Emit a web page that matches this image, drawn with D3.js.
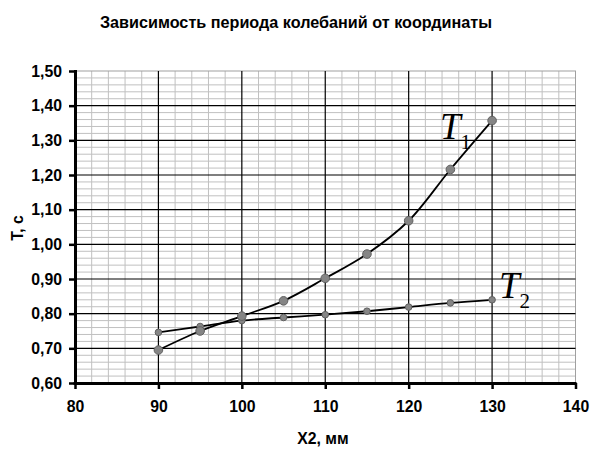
<!DOCTYPE html>
<html><head><meta charset="utf-8">
<script src="https://cdn.jsdelivr.net/npm/d3@7"></script>
<style>body{margin:0;background:#fff}svg{display:block}</style>
</head><body>
<svg id="c" width="591" height="455"></svg>
<script>
const xValues = [90, 95, 100, 105, 110, 115, 120, 125, 130];
const t1Values = [0.695, 0.750, 0.793, 0.837, 0.902, 0.972, 1.068, 1.216, 1.357];
const t2Values = [0.746, 0.763, 0.780, 0.789, 0.797, 0.807, 0.819, 0.831, 0.840];
const xTicks = [80, 90, 100, 110, 120, 130, 140];
const yTicks = [0.60, 0.70, 0.80, 0.90, 1.00, 1.10, 1.20, 1.30, 1.40, 1.50];
const title = "Зависимость периода колебаний от координаты";
const xTitle = "X2, мм";
const yTitle = "T, c";

const svg = d3.select("#c");
const L = 75, R = 575.5, T = 71, B = 383;
const x = d3.scaleLinear().domain([80, 140]).range([L, R]);
const y = d3.scaleLinear().domain([0.6, 1.5]).range([B, T]);
const font = "'Liberation Sans', Arial, sans-serif";
const fs = 15.8;

// minor grid
const g = svg.append("g");
g.selectAll("line.mx").data(d3.range(82, 140, 2).filter(v => v % 10 !== 0)).join("line")
  .attr("x1", d => x(d)).attr("x2", d => x(d)).attr("y1", T).attr("y2", B)
  .attr("stroke", "#c0c0c0").attr("stroke-width", 1);
g.selectAll("line.my").data(d3.range(0, 45).map(i => 0.62 + i * 0.02).filter(v => Math.round(v * 100) % 10 !== 0)).join("line")
  .attr("x1", L).attr("x2", R).attr("y1", d => y(d)).attr("y2", d => y(d))
  .attr("stroke", "#c0c0c0").attr("stroke-width", 1);
// border
svg.append("rect").attr("x", L).attr("y", T).attr("width", R - L).attr("height", B - T)
  .attr("fill", "none").attr("stroke", "#a0a0a0").attr("stroke-width", 1);
// major grid
svg.append("g").selectAll("line").data(xTicks.slice(1, -1)).join("line")
  .attr("x1", d => x(d)).attr("x2", d => x(d)).attr("y1", T).attr("y2", B)
  .attr("stroke", "#000").attr("stroke-width", 1.2);
svg.append("g").selectAll("line").data(yTicks.slice(1, -1)).join("line")
  .attr("x1", L).attr("x2", R).attr("y1", d => y(d)).attr("y2", d => y(d))
  .attr("stroke", "#000").attr("stroke-width", 1.2);

// axes
const fmt = d => d3.format(".2f")(d).replace(".", ",");
const yAxis = svg.append("g").attr("transform", `translate(${L},0)`)
  .call(d3.axisLeft(y).tickValues(yTicks).tickFormat(fmt).tickSize(6).tickPadding(7));
const xAxis = svg.append("g").attr("transform", `translate(0,${B})`)
  .call(d3.axisBottom(x).tickValues(xTicks).tickSize(6).tickPadding(12));
[yAxis, xAxis].forEach(a => {
  a.select(".domain").attr("stroke", "#000").attr("stroke-width", 3);
  a.selectAll(".tick line").attr("stroke", "#000").attr("stroke-width", 2.5);
  a.selectAll("text").attr("fill", "#000").attr("font-family", font)
    .attr("font-weight", "bold").attr("font-size", fs);
});
yAxis.select(".domain").attr("d", `M0.5,${T - 1}V${B + 1.5}`);
xAxis.select(".domain").attr("d", `M${L - 1.5},0.5H${R + 1}`);

// lines
const line = d3.line().curve(d3.curveCatmullRom.alpha(0.5));
const pts1 = xValues.map((v, i) => [x(v), y(t1Values[i])]);
const pts2 = xValues.map((v, i) => [x(v), y(t2Values[i])]);
svg.append("path").attr("d", line(pts1)).attr("fill", "none").attr("stroke", "#000").attr("stroke-width", 1.8);
svg.append("path").attr("d", line(pts2)).attr("fill", "none").attr("stroke", "#000").attr("stroke-width", 1.8);
svg.append("g").selectAll("circle").data(pts2).join("circle")
  .attr("cx", d => d[0]).attr("cy", d => d[1]).attr("r", 3.3)
  .attr("fill", "#858585").attr("stroke", "#606060").attr("stroke-width", 1);
svg.append("g").selectAll("circle").data(pts1).join("circle")
  .attr("cx", d => d[0]).attr("cy", d => d[1]).attr("r", 4.3)
  .attr("fill", "#858585").attr("stroke", "#606060").attr("stroke-width", 1);

// series labels
function lab(px, py, sub) {
  const t = svg.append("text").attr("x", px).attr("y", py)
    .attr("font-family", "'Liberation Serif', 'Times New Roman', serif").attr("font-style", "italic")
    .attr("font-size", 37).attr("fill", "#000");
  t.append("tspan").text("T");
  t.append("tspan").attr("font-style", "normal").attr("font-size", 21).attr("dy", 10).text(sub);
}
lab(440, 139, "1");
lab(499, 297.5, "2");

// titles
svg.append("text").attr("x", 296).attr("y", 28).attr("text-anchor", "middle")
  .attr("font-family", font).attr("font-weight", "bold").attr("font-size", 16.2).text(title);
svg.append("text").attr("x", 323).attr("y", 444).attr("text-anchor", "middle")
  .attr("font-family", font).attr("font-weight", "bold").attr("font-size", fs).text(xTitle);
svg.append("text").attr("transform", "translate(23,228) rotate(-90)").attr("text-anchor", "middle")
  .attr("font-family", font).attr("font-weight", "bold").attr("font-size", fs).text(yTitle);
</script>
</body></html>
